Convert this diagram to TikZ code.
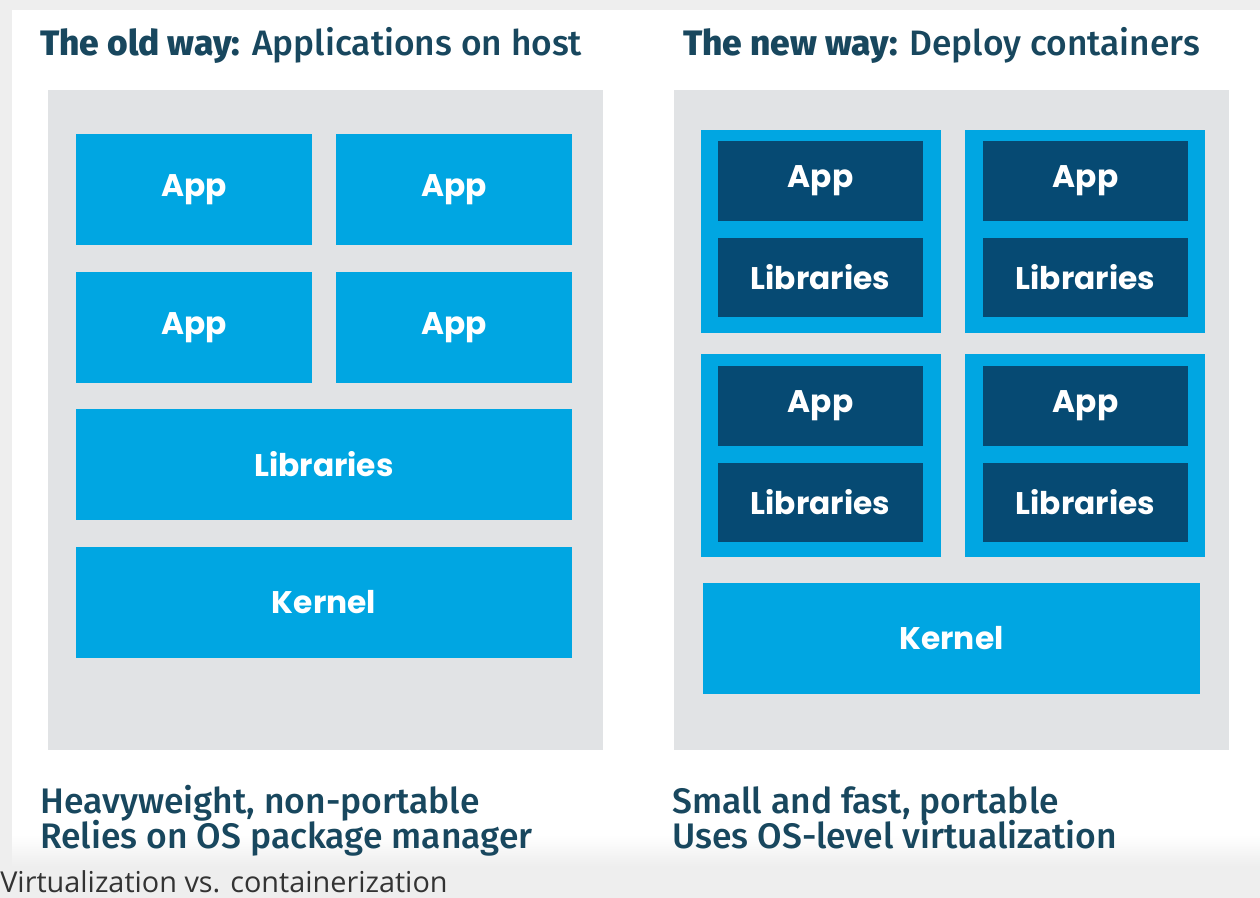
\documentclass[tikz,border=0pt]{standalone}
\usepackage{fontspec}
\setmainfont{Fira Sans}
\newfontfamily\medfont{Fira Sans Medium}
\newfontfamily\boxfont{Poppins}
\newfontfamily\capfont{Open Sans}
\definecolor{panelgray}{HTML}{E1E3E5}
\definecolor{lblue}{HTML}{00A6E2}
\definecolor{navy}{HTML}{064A73}
\definecolor{titlec}{HTML}{18475E}
\definecolor{bggray}{HTML}{EEEEEE}
\definecolor{capc}{HTML}{333333}
\tikzset{
  panel/.style={fill=panelgray, draw=none, minimum width=11.1cm, minimum height=13.2cm, inner sep=0},
  bluebox/.style={fill=lblue, draw=none, inner sep=0, text=white, font=\boxfont\bfseries\fontsize{17.8}{20}\selectfont},
  navybox/.style={fill=navy, draw=none, inner sep=0, text=white, minimum width=4.1cm, minimum height=1.6cm, font=\boxfont\bfseries\fontsize{17.8}{20}\selectfont},
  container/.style={fill=lblue, draw=none, inner sep=0, minimum width=4.8cm, minimum height=4.06cm},
  title/.style={anchor=base west, inner sep=0, text=titlec, font=\medfont\fontsize{20.1}{24}\selectfont},
  note/.style={anchor=base west, inner sep=0, text=titlec, font=\medfont\fontsize{20.2}{23}\selectfont},
}
\begin{document}
\begin{tikzpicture}[x=0.02cm, y=-0.02cm]
\useasboundingbox (0,0) rectangle (1260,898);
% background
\fill[bggray] (0,0) rectangle (1260,898);
\fill[white] (12,10) rectangle (1260,835);
\shade[top color=white, bottom color=bggray] (12,835) rectangle (1260,866);
% titles
\node[title] (t1) at (40,56) {\textbf{The old way:} Applications on host};
\node[title] (t2) at (683,56) {\textbf{The new way:} Deploy containers};
% left panel
\node[panel] (lp) at (325.5,420) {};
\node[bluebox, minimum width=4.72cm, minimum height=2.22cm] (a1) at (194,189.5) {App};
\node[bluebox, minimum width=4.72cm, minimum height=2.22cm] (a2) at (454,189.5) {App};
\node[bluebox, minimum width=4.72cm, minimum height=2.22cm] (a3) at (194,327.5) {App};
\node[bluebox, minimum width=4.72cm, minimum height=2.22cm] (a4) at (454,327.5) {App};
\node[bluebox, minimum width=9.92cm, minimum height=2.22cm] (lib) at (324,464.5) {Libraries};
\node[bluebox, minimum width=9.92cm, minimum height=2.22cm] (ker) at (324,602.5) {Kernel};
% right panel
\node[panel] (rp) at (951.5,420) {};
\node[container] (c1) at (821,231.5) {};
\node[container] (c2) at (1085,231.5) {};
\node[container] (c3) at (821,455.5) {};
\node[container] (c4) at (1085,455.5) {};
\node[navybox] (c1a) at (820.5,181) {App};
\node[navybox] (c1l) at (820.5,277.5) {Libraries};
\node[navybox] (c2a) at (1085.5,181) {App};
\node[navybox] (c2l) at (1085.5,277.5) {Libraries};
\node[navybox] (c3a) at (820.5,406) {App};
\node[navybox] (c3l) at (820.5,502.5) {Libraries};
\node[navybox] (c4a) at (1085.5,406) {App};
\node[navybox] (c4l) at (1085.5,502.5) {Libraries};
\node[bluebox, minimum width=9.94cm, minimum height=2.22cm] (rker) at (951.5,638.5) {Kernel};
% notes
\node[note] (n1) at (40,813) {Heavyweight, non-portable};
\node[note] (n2) at (40,848) {Relies on OS package manager};
\node[note] (n3) at (672,813) {Small and fast, portable};
\node[note] (n4) at (672,848) {Uses OS-level virtualization};
% caption
\node[anchor=base west, inner sep=0, text=capc, font=\capfont\fontsize{16.4}{20}\selectfont] (cap) at (0,892) {Virtualization vs. containerization};
\end{tikzpicture}
\end{document}
